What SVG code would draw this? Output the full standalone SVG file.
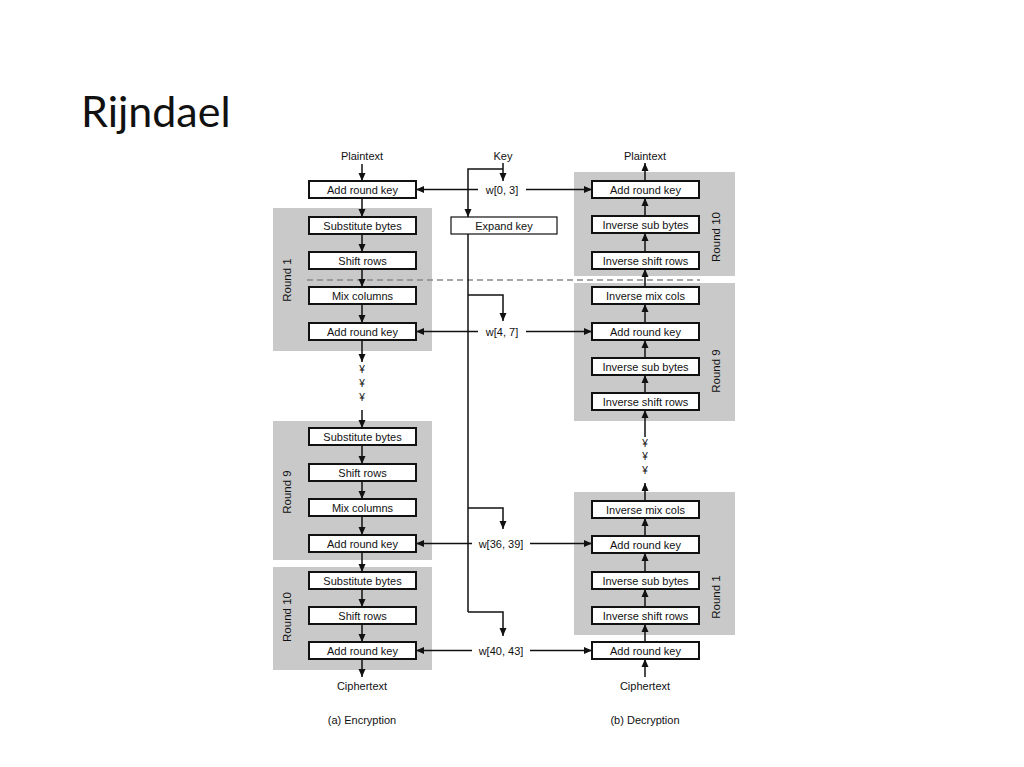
<svg xmlns="http://www.w3.org/2000/svg" width="1024" height="767" viewBox="0 0 1024 767">
<defs>
<marker id="ah" markerUnits="userSpaceOnUse" markerWidth="9" markerHeight="8" refX="8" refY="4" orient="auto">
<path d="M0,0.5 L8,4 L0,7.5 z" fill="#111"/>
</marker>
<style>
.bg{fill:#c9c9c9}
.box{fill:#fff;stroke:#111;stroke-width:2}
.kbox{fill:#fff;stroke:#111;stroke-width:1.2}
.t{font-family:"Liberation Sans",Arial,sans-serif;font-size:11px;fill:#111;text-anchor:middle;dominant-baseline:central}
.r{font-family:"Liberation Sans",Arial,sans-serif;font-size:11.5px;fill:#111;text-anchor:middle;dominant-baseline:central}
.ln{fill:none;stroke:#111;stroke-width:1.5}
.ar{fill:none;stroke:#111;stroke-width:1.5;marker-end:url(#ah)}
.dash{fill:none;stroke:#888;stroke-width:1.3;stroke-dasharray:6,4}
.dot{font-family:"Liberation Sans",Arial,sans-serif;font-size:10px;fill:#111;text-anchor:middle;dominant-baseline:central}
</style>
</defs>
<rect width="1024" height="767" fill="#fff"/>
<text x="81" y="127" font-family="Lato, 'Open Sans', sans-serif" font-size="43" fill="#111">Rijndael</text>

<!-- grey round panels -->
<g id="panels">
<rect class="bg" x="273" y="208" width="159" height="143"/>
<rect class="bg" x="273" y="421" width="159" height="139"/>
<rect class="bg" x="273" y="567" width="159" height="103"/>
<rect class="bg" x="574" y="172" width="161" height="104"/>
<rect class="bg" x="574" y="283" width="161" height="138"/>
<rect class="bg" x="574" y="492" width="161" height="143"/>
<text class="r" transform="translate(287,280) rotate(-90)">Round 1</text>
<text class="r" transform="translate(287,492) rotate(-90)">Round 9</text>
<text class="r" transform="translate(287,617) rotate(-90)">Round 10</text>
<text class="r" transform="translate(716,237) rotate(-90)">Round 10</text>
<text class="r" transform="translate(716,371) rotate(-90)">Round 9</text>
<text class="r" transform="translate(716,597) rotate(-90)">Round 1</text>
</g>

<line class="dash" x1="307" y1="280" x2="700" y2="280"/>

<g id="connectors">
<!-- encryption chain -->
<line class="ar" x1="362" y1="164" x2="362" y2="181"/>
<line class="ar" x1="362" y1="198" x2="362" y2="217"/>
<line class="ar" x1="362" y1="234" x2="362" y2="252"/>
<line class="ar" x1="362" y1="269" x2="362" y2="287"/>
<line class="ar" x1="362" y1="304" x2="362" y2="323"/>
<line class="ar" x1="362" y1="340" x2="362" y2="362"/>
<line class="ar" x1="362" y1="410" x2="362" y2="428"/>
<line class="ar" x1="362" y1="445" x2="362" y2="464"/>
<line class="ar" x1="362" y1="481" x2="362" y2="499"/>
<line class="ar" x1="362" y1="516" x2="362" y2="535"/>
<line class="ar" x1="362" y1="552" x2="362" y2="572"/>
<line class="ar" x1="362" y1="589" x2="362" y2="607"/>
<line class="ar" x1="362" y1="624" x2="362" y2="642"/>
<line class="ar" x1="362" y1="659" x2="362" y2="677"/>
<!-- decryption chain (upward) -->
<line class="ar" x1="645" y1="181" x2="645" y2="163"/>
<line class="ar" x1="645" y1="216" x2="645" y2="198"/>
<line class="ar" x1="645" y1="252" x2="645" y2="233"/>
<line class="ar" x1="645" y1="287" x2="645" y2="269"/>
<line class="ar" x1="645" y1="323" x2="645" y2="304"/>
<line class="ar" x1="645" y1="358" x2="645" y2="340"/>
<line class="ar" x1="645" y1="393" x2="645" y2="375"/>
<line class="ar" x1="645" y1="437" x2="645" y2="410"/>
<line class="ar" x1="645" y1="501" x2="645" y2="483"/>
<line class="ar" x1="645" y1="536" x2="645" y2="518"/>
<line class="ar" x1="645" y1="572" x2="645" y2="553"/>
<line class="ar" x1="645" y1="607" x2="645" y2="589"/>
<line class="ar" x1="645" y1="642" x2="645" y2="624"/>
<line class="ar" x1="645" y1="677" x2="645" y2="659"/>
<!-- key schedule -->
<line class="ar" x1="503" y1="163" x2="503" y2="181"/>
<polyline class="ar" points="503,169 468,169 468,217"/>
<polyline class="ln" points="468,234 468,612"/>
<polyline class="ar" points="468,295 503,295 503,321"/>
<polyline class="ar" points="468,508 503,508 503,529"/>
<polyline class="ar" points="468,612 503,612 503,636"/>
<!-- round key feeds -->
<line class="ar" x1="478" y1="189.5" x2="416" y2="189.5"/>
<line class="ar" x1="526" y1="189.5" x2="592" y2="189.5"/>
<line class="ar" x1="478" y1="331.5" x2="416" y2="331.5"/>
<line class="ar" x1="526" y1="331.5" x2="592" y2="331.5"/>
<line class="ar" x1="472" y1="543.5" x2="416" y2="543.5"/>
<line class="ar" x1="530" y1="543.5" x2="592" y2="543.5"/>
<line class="ar" x1="472" y1="650.5" x2="416" y2="650.5"/>
<line class="ar" x1="530" y1="650.5" x2="592" y2="650.5"/>
</g>

<!-- encryption nodes -->
<g id="enc-plaintext"><text class="t" x="362" y="156">Plaintext</text></g>
<g id="enc-ark0"><rect class="box" x="309" y="181" width="107" height="17"/><text class="t" x="362.5" y="189.5">Add round key</text></g>
<g id="enc-r1-sb"><rect class="box" x="309" y="217" width="107" height="17"/><text class="t" x="362.5" y="225.5">Substitute bytes</text></g>
<g id="enc-r1-sr"><rect class="box" x="309" y="252" width="107" height="17"/><text class="t" x="362.5" y="260.5">Shift rows</text></g>
<g id="enc-r1-mc"><rect class="box" x="309" y="287" width="107" height="17"/><text class="t" x="362.5" y="295.5">Mix columns</text></g>
<g id="enc-r1-ark"><rect class="box" x="309" y="323" width="107" height="17"/><text class="t" x="362.5" y="331.5">Add round key</text></g>
<g id="enc-dots"><text class="dot" x="362" y="369">¥</text><text class="dot" x="362" y="383">¥</text><text class="dot" x="362" y="397">¥</text></g>
<g id="enc-r9-sb"><rect class="box" x="309" y="428" width="107" height="17"/><text class="t" x="362.5" y="436.5">Substitute bytes</text></g>
<g id="enc-r9-sr"><rect class="box" x="309" y="464" width="107" height="17"/><text class="t" x="362.5" y="472.5">Shift rows</text></g>
<g id="enc-r9-mc"><rect class="box" x="309" y="499" width="107" height="17"/><text class="t" x="362.5" y="507.5">Mix columns</text></g>
<g id="enc-r9-ark"><rect class="box" x="309" y="535" width="107" height="17"/><text class="t" x="362.5" y="543.5">Add round key</text></g>
<g id="enc-r10-sb"><rect class="box" x="309" y="572" width="107" height="17"/><text class="t" x="362.5" y="580.5">Substitute bytes</text></g>
<g id="enc-r10-sr"><rect class="box" x="309" y="607" width="107" height="17"/><text class="t" x="362.5" y="615.5">Shift rows</text></g>
<g id="enc-r10-ark"><rect class="box" x="309" y="642" width="107" height="17"/><text class="t" x="362.5" y="650.5">Add round key</text></g>
<g id="enc-ciphertext"><text class="t" x="362" y="686">Ciphertext</text></g>
<g id="enc-caption"><text class="t" x="362" y="720">(a) Encryption</text></g>

<!-- key nodes -->
<g id="key"><text class="t" x="503" y="156">Key</text></g>
<g id="expand-key"><rect class="kbox" x="451" y="217" width="106" height="17"/><text class="t" x="504" y="225.5">Expand key</text></g>
<g id="w0"><text class="t" x="502" y="189.5">w[0, 3]</text></g>
<g id="w4"><text class="t" x="502" y="331.5">w[4, 7]</text></g>
<g id="w36"><text class="t" x="501" y="543.5">w[36, 39]</text></g>
<g id="w40"><text class="t" x="501" y="650.5">w[40, 43]</text></g>

<!-- decryption nodes -->
<g id="dec-plaintext"><text class="t" x="645" y="156">Plaintext</text></g>
<g id="dec-r10-ark"><rect class="box" x="592" y="181" width="107" height="17"/><text class="t" x="645.5" y="189.5">Add round key</text></g>
<g id="dec-r10-isb"><rect class="box" x="592" y="216" width="107" height="17"/><text class="t" x="645.5" y="224.5">Inverse sub bytes</text></g>
<g id="dec-r10-isr"><rect class="box" x="592" y="252" width="107" height="17"/><text class="t" x="645.5" y="260.5">Inverse shift rows</text></g>
<g id="dec-r9-imc"><rect class="box" x="592" y="287" width="107" height="17"/><text class="t" x="645.5" y="295.5">Inverse mix cols</text></g>
<g id="dec-r9-ark"><rect class="box" x="592" y="323" width="107" height="17"/><text class="t" x="645.5" y="331.5">Add round key</text></g>
<g id="dec-r9-isb"><rect class="box" x="592" y="358" width="107" height="17"/><text class="t" x="645.5" y="366.5">Inverse sub bytes</text></g>
<g id="dec-r9-isr"><rect class="box" x="592" y="393" width="107" height="17"/><text class="t" x="645.5" y="401.5">Inverse shift rows</text></g>
<g id="dec-dots"><text class="dot" x="645" y="443">¥</text><text class="dot" x="645" y="456">¥</text><text class="dot" x="645" y="470">¥</text></g>
<g id="dec-r1-imc"><rect class="box" x="592" y="501" width="107" height="17"/><text class="t" x="645.5" y="509.5">Inverse mix cols</text></g>
<g id="dec-r1-ark"><rect class="box" x="592" y="536" width="107" height="17"/><text class="t" x="645.5" y="544.5">Add round key</text></g>
<g id="dec-r1-isb"><rect class="box" x="592" y="572" width="107" height="17"/><text class="t" x="645.5" y="580.5">Inverse sub bytes</text></g>
<g id="dec-r1-isr"><rect class="box" x="592" y="607" width="107" height="17"/><text class="t" x="645.5" y="615.5">Inverse shift rows</text></g>
<g id="dec-ark0"><rect class="box" x="592" y="642" width="107" height="17"/><text class="t" x="645.5" y="650.5">Add round key</text></g>
<g id="dec-ciphertext"><text class="t" x="645" y="686">Ciphertext</text></g>
<g id="dec-caption"><text class="t" x="645" y="720">(b) Decryption</text></g>
</svg>
